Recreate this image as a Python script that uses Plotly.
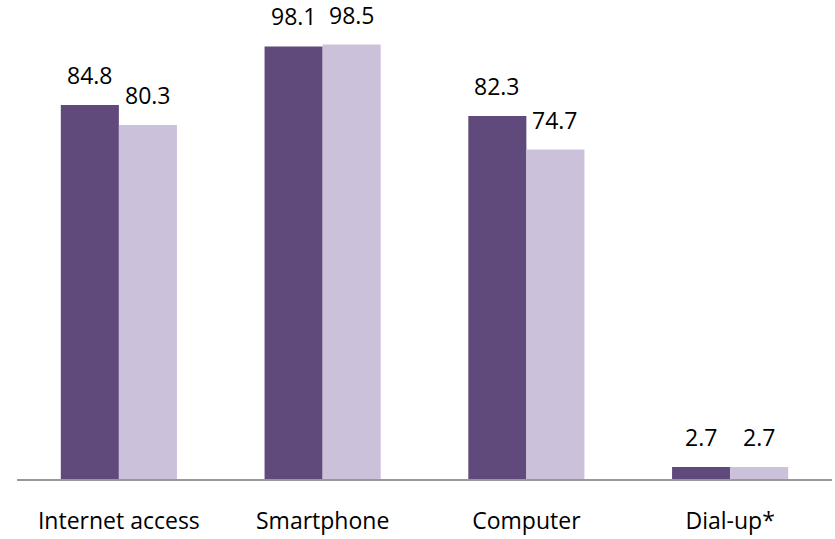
import plotly.graph_objects as go

categories = ["Internet access", "Smartphone", "Computer", "Dial-up*"]
series_a = [84.8, 98.1, 82.3, 2.7]
series_b = [80.3, 98.5, 74.7, 2.7]

dark = "#604A7B"
light = "#CCC1DA"
font_family = "Open Sans"

fig = go.Figure()
fig.add_trace(go.Bar(x=categories, y=series_a, marker=dict(color=dark, line=dict(width=0)),
                     offsetgroup="a", hoverinfo="skip"))
fig.add_trace(go.Bar(x=categories, y=series_b, marker=dict(color=light, line=dict(width=0)),
                     offsetgroup="b", hoverinfo="skip"))

# value labels above each bar (bar centres sit a quarter of the group width off the category)
half = (1 - 0.43) / 4
annotations = []
for i, cat in enumerate(categories):
    for vals, shift in ((series_a, -half), (series_b, half)):
        annotations.append(dict(
            x=i + shift, y=vals[i], xref="x", yref="y",
            text=f"{vals[i]:.1f}", showarrow=False,
            yanchor="bottom", xanchor="center", yshift=12,
            font=dict(family=font_family, size=23, color="#000000"),
        ))

fig.update_layout(
    width=835, height=539,
    margin=dict(l=17, r=3, t=38, b=49),
    paper_bgcolor="white", plot_bgcolor="white",
    barmode="group", bargap=0.43, bargroupgap=0,
    showlegend=False,
    annotations=annotations,
    xaxis=dict(
        showline=True, linecolor="#999999", linewidth=2,
        showgrid=False, ticks="", ticklabelstandoff=20,
        tickfont=dict(family=font_family, size=23, color="#000000"),
    ),
    yaxis=dict(range=[0, 100], visible=False, showgrid=False, zeroline=False),
)

fig.write_html("out.html")
